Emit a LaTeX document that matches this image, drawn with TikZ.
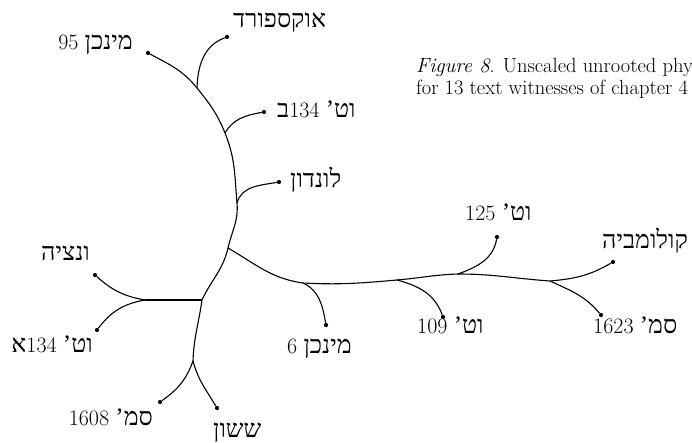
\documentclass[tikz,border=0pt]{standalone}
\usepackage{fontspec}
\newfontfamily\hebfont[Script=Hebrew]{Liberation Serif}
\TeXXeTstate=1
\newcommand{\osn}[1]{\beginL{\rmfamily\fontsize{22}{22}\selectfont\addfontfeatures{Numbers=OldStyle}#1}\endL}
\newcommand{\heb}[1]{{\hebfont\beginR #1\endR}}

\begin{document}
\begin{tikzpicture}[x=1pt,y=1pt,
		leaf/.style={circle,fill=black,inner sep=0pt,minimum size=4.2pt},
		branch/.style={line width=1.1pt},
		lbl/.style={inner sep=0pt,font=\fontsize{25}{25}\selectfont},
		capt/.style={inner sep=0pt,align=left,anchor=base west,font=\fontsize{20.5}{22}\selectfont}
		]
		% We will draw the tree here
		\useasboundingbox (0,0) rectangle (692,442);
		
		% inner splits
		\coordinate (a) at (197,354);
		\coordinate (b) at (225,309);
		\coordinate (c) at (237,239);
		\coordinate (d) at (228,194);
		\coordinate (e) at (202,142);
		\coordinate (f) at (145,142);
		\coordinate (g) at (193,81);
		\coordinate (h) at (303,159);
		\coordinate (i) at (397,162);
		\coordinate (j) at (458,168);
		\coordinate (k) at (550,161);
		
		% witnesses
		\node[leaf] (m95) at (148,389) {};
		\node[leaf] (oxf) at (227,405) {};
		\node[leaf] (v134b) at (264,330) {};
		\node[leaf] (lon) at (279,260) {};
		\node[leaf] (ven) at (95,167) {};
		\node[leaf] (v134a) at (97,112) {};
		\node[leaf] (s1608) at (160,40) {};
		\node[leaf] (sas) at (217,34) {};
		\node[leaf] (m6) at (326,117) {};
		\node[leaf] (v109) at (443,125) {};
		\node[leaf] (v125) at (497,205) {};
		\node[leaf] (col) at (613,180) {};
		\node[leaf] (s1623) at (601,127) {};
		
		\node[lbl,anchor=base east] (tm95) at (133,392) {\heb{מינכן \osn{95}}};
		\node[lbl,anchor=base west] (toxf) at (233,414) {\heb{אוקספורד}};
		\node[lbl,anchor=base west] (tv134b) at (277,324) {\heb{וט’ \osn{134}ב}};
		\node[lbl,anchor=base west] (tlon) at (290,254) {\heb{לונדון}};
		\node[lbl,anchor=base east] (tven) at (90,182) {\heb{ונציה}};
		\node[lbl,anchor=base east] (tv134a) at (93,90) {\heb{וט’ \osn{134}א}};
		\node[lbl,anchor=base east] (ts1608) at (153,17) {\heb{סמ’ \osn{1608}}};
		\node[lbl,anchor=base west] (tsas) at (213,5) {\heb{ששון}};
		\node[lbl,anchor=base west] (tm6) at (287,89) {\heb{מינכן \osn{6}}};
		\node[lbl,anchor=base west] (tv109) at (417,109) {\heb{וט’ \osn{109}}};
		\node[lbl,anchor=base west] (tv125) at (465,222) {\heb{וט’ \osn{125}}};
		\node[lbl,anchor=base west] (tcol) at (602,194) {\heb{קולומביה}};
		\node[lbl,anchor=base west] (ts1623) at (593,109) {\heb{סמ’ \osn{1623}}};
		
		\node[capt] (cap) at (416,347) {\addfontfeatures{Numbers=OldStyle}\textit{Figure 8}. Unscaled unrooted phy\\for 13 text witnesses of chapter 4};
		
		% trunk
		\draw[branch] (m95) to[out=-28,in=129] (a) to[out=-51,in=112] (b)
			to[out=-68,in=95] (c) to[out=-85,in=77] (d) to[out=-103,in=65] (e)
			to[out=-98,in=88] (g);
		% main limb
		\draw[branch] (d) to[out=-30,in=172] (h) to[out=-3,in=185] (i)
			to[out=5,in=182] (j) to[out=0,in=176] (k);
		% twigs
		\draw[branch] (a) to[out=88,in=200] (oxf);
		\draw[branch] (b) to[out=60,in=190] (v134b);
		\draw[branch] (c) to[out=75,in=190] (lon);
		\draw[branch] (e) -- (f);
		\draw[branch] (f) to[out=170,in=-42] (ven);
		\draw[branch] (f) to[out=190,in=53] (v134a);
		\draw[branch] (g) to[out=-110,in=35] (s1608);
		\draw[branch] (g) to[out=-75,in=121] (sas);
		\draw[branch] (h) to[out=-25,in=100] (m6);
		\draw[branch] (i) to[out=-15,in=110] (v109);
		\draw[branch] (j) to[out=20,in=-100] (v125);
		\draw[branch] (k) to[out=5,in=210] (col);
		\draw[branch] (k) to[out=-25,in=130] (s1623);
		
\end{tikzpicture}
\end{document}
